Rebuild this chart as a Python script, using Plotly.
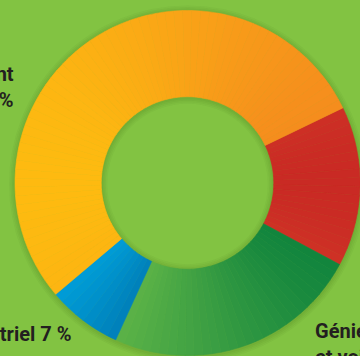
import math
import plotly.graph_objects as go

# Market share by activity (percent), clockwise from the red slice
categories = ["Autres activités", "Génie civil et voirie", "Industriel", "Bâtiment"]
shares = [15, 24, 7, 54]
# horizontal gradient per slice: (left colour, right colour)
gradients = [
    ("#DA4327", "#BC1622"),
    ("#63B748", "#007A3B"),
    ("#00B2EE", "#0073AC"),
    ("#FFC20E", "#F4861F"),
]
label_texts = {
    "Bâtiment": "Bâtiment<br>54 %",
    "Industriel": "Industriel 7 %",
    "Génie civil et voirie": "Génie civil<br>et voirie 24 %",
}

BG = "#82C342"
W, H = 360, 356
ROTATION = 64.2
HOLE = 0.5
DOMAIN_X = [0.0417, 1.0]
DOMAIN_Y = [0.0, 0.972]


def hex_rgb(h):
    h = h.lstrip("#")
    return tuple(int(h[i:i + 2], 16) for i in (0, 2, 4))


def mix(c1, c2, t):
    a, b = hex_rgb(c1), hex_rgb(c2)
    return "rgb({},{},{})".format(*[round(a[i] + (b[i] - a[i]) * t) for i in range(3)])


# Each slice is drawn as a run of thin wedges whose colours follow a
# left-to-right gradient, giving the shaded look of the ring.
total = sum(shares)
sub_labels, sub_values, sub_colors, sub_names = [], [], [], []
angle = ROTATION
for name, value, (c_left, c_right) in zip(categories, shares, gradients):
    span = 360.0 * value / total
    n = max(6, int(round(span / 3.0)))
    # x-extent of the slice on the ring (unit outer radius)
    samples = [angle + span * k / 60.0 for k in range(61)]
    xs = [r * math.sin(math.radians(a)) for a in samples for r in (HOLE, 1.0)]
    x_min, x_max = min(xs), max(xs)
    for k in range(n):
        mid = angle + span * (k + 0.5) / n
        xm = 0.75 * math.sin(math.radians(mid))
        t = 0.5 if x_max == x_min else (xm - x_min) / (x_max - x_min)
        t = min(1.0, max(0.0, t))
        sub_labels.append(f"{name} #{k}")
        sub_values.append(value / n)
        sub_colors.append(mix(c_left, c_right, t))
        sub_names.append(f"{name} : {value} %")
    angle += span

fig = go.Figure()
fig.add_trace(go.Pie(
    labels=sub_labels,
    values=sub_values,
    hovertext=sub_names,
    hoverinfo="text",
    sort=False,
    direction="clockwise",
    rotation=ROTATION,
    hole=HOLE,
    textinfo="none",
    showlegend=False,
    marker=dict(colors=sub_colors, line=dict(color=sub_colors, width=0.6)),
    domain=dict(x=DOMAIN_X, y=DOMAIN_Y),
))

# faint drop shadow around the ring (outer edge and inside the hole)
cx = (DOMAIN_X[0] + DOMAIN_X[1]) / 2
cy = (DOMAIN_Y[0] + DOMAIN_Y[1]) / 2
R_px = min((DOMAIN_X[1] - DOMAIN_X[0]) * W, (DOMAIN_Y[1] - DOMAIN_Y[0]) * H) / 2
shapes = []
for d in (1.5, 3, 4.5, 6):
    for r_px in (R_px, R_px * HOLE):
        rx, ry = r_px / W, r_px / H
        shapes.append(dict(
            type="circle", xref="paper", yref="paper", layer="below",
            x0=cx - rx, x1=cx + rx, y0=cy - ry - 1 / H, y1=cy + ry - 1 / H,
            line=dict(color="rgba(40,70,10,0.035)", width=2 * d),
        ))

font = dict(family="Liberation Sans Narrow, Roboto, Arial", size=20, color="#231F20")
annotations = [
    dict(text="<b>" + label_texts["Bâtiment"] + "</b>", x=16 / W, y=1 - 60 / H,
         xanchor="right", yanchor="top", align="right"),
    dict(text="<b>" + label_texts["Industriel"] + "</b>", x=73 / W, y=1 - 348 / H,
         xanchor="right", yanchor="bottom", align="right"),
    dict(text="<b>" + label_texts["Génie civil et voirie"] + "</b>", x=313 / W, y=1 - 317 / H,
         xanchor="left", yanchor="top", align="left"),
]
for a in annotations:
    a.update(xref="paper", yref="paper", showarrow=False, font=font)

fig.update_layout(
    width=W, height=H,
    margin=dict(l=0, r=0, t=0, b=0),
    paper_bgcolor=BG, plot_bgcolor=BG,
    shapes=shapes,
    annotations=annotations,
)

fig.write_html("out.html")
